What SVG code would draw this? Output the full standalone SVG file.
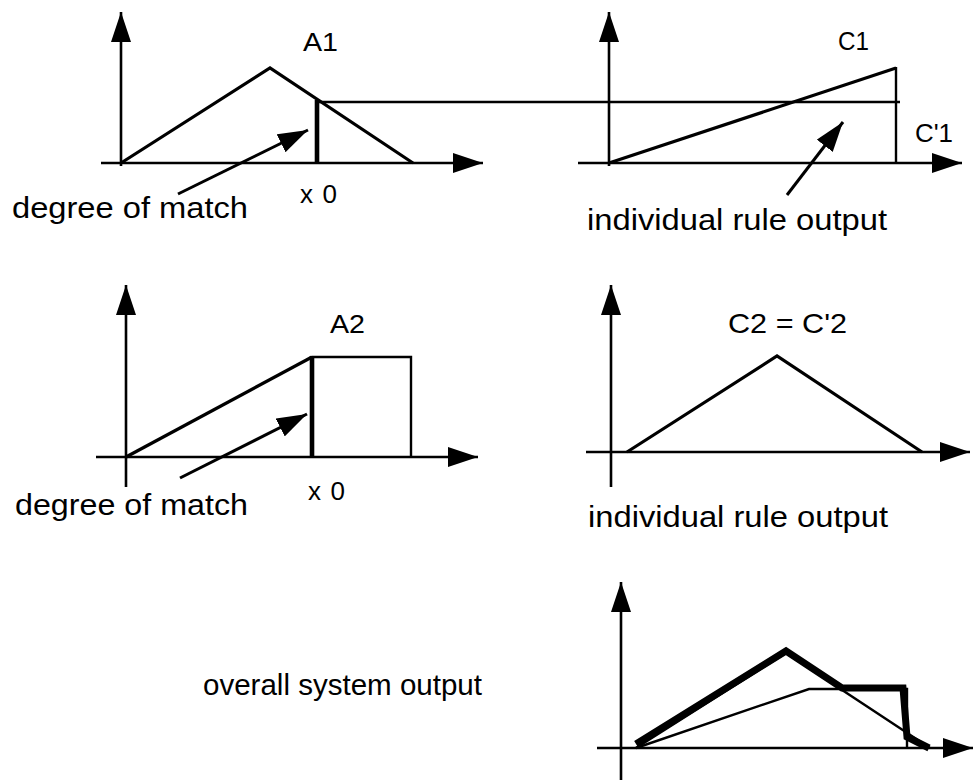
<svg xmlns="http://www.w3.org/2000/svg" width="974" height="780" viewBox="0 0 974 780">
<defs>
<marker id="ah" markerUnits="userSpaceOnUse" markerWidth="30" markerHeight="20" refX="30" refY="10" orient="auto" viewBox="0 0 30 20">
<path d="M0,0 L30,10 L0,20 z" fill="#000"/>
</marker>
</defs>
<style>
.ax{stroke:#000;stroke-width:2.6;fill:none;marker-end:url(#ah)}
.ln{stroke:#000;stroke-width:3.2;fill:none;stroke-linejoin:miter}
.th{stroke:#000;stroke-width:2.4;fill:none}
.bold{stroke:#000;stroke-width:4.6;fill:none}
.heavy{stroke:#000;stroke-width:7;fill:none;stroke-linejoin:miter}
.ptr{stroke:#000;stroke-width:3;fill:none;marker-end:url(#ah)}
text{font-family:"Liberation Sans",Arial,sans-serif;fill:#000}
.lbl{font-size:26px}
.big{font-size:29px}
</style>
<rect width="974" height="780" fill="#fff"/>

<g id="panel-a1">
<line class="ax" x1="121" y1="166" x2="121" y2="12"/>
<line class="ax" x1="101" y1="163" x2="483" y2="163"/>
<polyline class="ln" points="121,163 270,68 413,163"/>
<line class="bold" x1="317" y1="100" x2="317" y2="164"/>
<text class="lbl" x="303" y="51" textLength="35" lengthAdjust="spacingAndGlyphs">A1</text>
<text class="lbl" x="300" y="203" textLength="37" lengthAdjust="spacing">x0</text>
<text class="big" x="12" y="218" textLength="236" lengthAdjust="spacingAndGlyphs">degree of match</text>
</g>

<g id="panel-c1">
<line class="ax" x1="609" y1="166" x2="609" y2="12"/>
<line class="ax" x1="578" y1="163" x2="962" y2="163"/>
<line class="ln" x1="609" y1="163" x2="896" y2="68"/>
<line class="th" x1="896" y1="67" x2="896" y2="163"/>
<text class="lbl" x="838" y="50" textLength="31" lengthAdjust="spacingAndGlyphs">C1</text>
<text class="lbl" x="915" y="142" textLength="38" lengthAdjust="spacingAndGlyphs">C'1</text>
<text class="big" x="587" y="230" textLength="300" lengthAdjust="spacingAndGlyphs">individual rule output</text>
</g>

<g id="panel-a2">
<line class="ax" x1="126" y1="487" x2="126" y2="285"/>
<line class="ax" x1="96" y1="457" x2="478" y2="457"/>
<line class="ln" x1="126" y1="457" x2="312" y2="357"/>
<line class="bold" x1="312" y1="356" x2="312" y2="458"/>
<polyline class="th" points="312,357 411,357 411,457"/>
<text class="lbl" x="330" y="333" textLength="35" lengthAdjust="spacingAndGlyphs">A2</text>
<text class="lbl" x="308" y="500" textLength="37" lengthAdjust="spacing">x0</text>
<text class="big" x="15" y="515" textLength="233" lengthAdjust="spacingAndGlyphs">degree of match</text>
</g>

<g id="panel-c2">
<line class="ax" x1="611" y1="487" x2="611" y2="285"/>
<line class="ax" x1="586" y1="452" x2="970" y2="452"/>
<polyline class="ln" points="627,452 777,356 922,452"/>
<text x="728" y="333" style="font-size:28px" textLength="119" lengthAdjust="spacingAndGlyphs">C2 = C'2</text>
<text class="big" x="588" y="527" textLength="300" lengthAdjust="spacingAndGlyphs">individual rule output</text>
</g>

<g id="panel-overall">
<line class="ax" x1="621" y1="780" x2="621" y2="582"/>
<line class="ax" x1="597" y1="748" x2="973" y2="748"/>
<polyline class="th" points="636,748 786,653 930,748"/>
<polyline class="th" points="636,748 809,689 907,689 907,748"/>
<polyline class="heavy" points="636,744 786,651 842,688 903,688 907,737 929,748"/>
<text class="big" x="203" y="695" textLength="279" lengthAdjust="spacingAndGlyphs">overall system output</text>
</g>

<g id="connectors">
<line class="th" x1="317" y1="102" x2="900" y2="102"/>
<line class="ptr" x1="178" y1="194" x2="308" y2="130"/>
<line class="ptr" x1="787" y1="195" x2="843" y2="122"/>
<line class="ptr" x1="180" y1="478" x2="307" y2="414"/>
</g>
</svg>
